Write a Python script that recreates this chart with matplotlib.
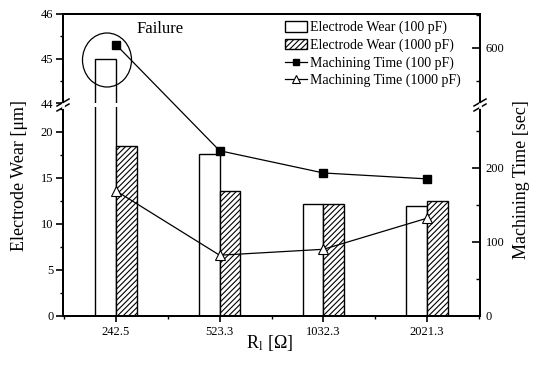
import matplotlib
matplotlib.use('Agg')
import matplotlib.pyplot as plt
from matplotlib.lines import Line2D
from matplotlib.patches import Patch, Ellipse, ConnectionPatch
from matplotlib.ticker import MultipleLocator, FixedLocator

plt.rcParams['font.family'] = ['Liberation Serif', 'DejaVu Serif']
plt.rcParams['mathtext.fontset'] = 'stix'
plt.rcParams['hatch.linewidth'] = 0.8

categories = ['242.5', '523.3', '1032.3', '2021.3']
wear_100pf = [45.0, 17.6, 12.2, 11.9]
wear_1000pf = [18.5, 13.6, 12.2, 12.5]
time_100pf = [605, 223, 193, 185]
time_1000pf = [169, 82, 90, 132]

W, H = 547, 368
fig = plt.figure(figsize=(W / 100, H / 100), dpi=100)

x0, x1 = 63 / W, 480 / W
ax_lo = fig.add_axes([x0, 1 - 316 / H, x1 - x0, (316 - 107) / H])
ax_hi = fig.add_axes([x0, 1 - 103 / H, x1 - x0, (103 - 14) / H])
ax_lo_r = ax_lo.twinx()
ax_hi_r = ax_hi.twinx()

pos = list(range(len(categories)))
bw = 0.2
for ax in (ax_lo, ax_hi):
    ax.bar(pos, wear_100pf, width=-bw, align='edge', facecolor='white',
           edgecolor='black', linewidth=1.0, zorder=2)
    ax.bar(pos, wear_1000pf, width=bw, align='edge', facecolor='white',
           edgecolor='black', hatch='//////', linewidth=1.0, zorder=2)
    ax.set_xlim(-0.51, 3.51)

ax_lo.set_ylim(0, 22.7)
ax_hi.set_ylim(44, 46)
ax_lo_r.set_ylim(0, 282)
ax_hi_r.set_ylim(517, 651)

# machining time lines
hi_idx = [i for i, v in enumerate(time_100pf) if v > 400]
lo_idx = [i for i, v in enumerate(time_100pf) if v <= 400]
ax_lo_r.plot(lo_idx, [time_100pf[i] for i in lo_idx], '-', color='black',
             lw=0.9, marker='s', ms=5.5, mfc='black', mec='black', zorder=5)
ax_hi_r.plot(hi_idx, [time_100pf[i] for i in hi_idx], 's', color='black',
             ms=5.5, zorder=5)
for i in hi_idx:
    j = i + 1
    con = ConnectionPatch(xyA=(i, time_100pf[i]), coordsA=ax_hi_r.transData,
                          xyB=(j, time_100pf[j]), coordsB=ax_lo_r.transData,
                          color='black', lw=0.9)
    fig.add_artist(con)
ax_lo_r.plot(pos, time_1000pf, '-', color='black', lw=0.9, marker='^', ms=7,
             mfc='white', mec='black', mew=0.8, zorder=5)

# spines / ticks
for ax in (ax_lo, ax_lo_r):
    ax.spines['top'].set_visible(False)
for ax in (ax_hi, ax_hi_r):
    ax.spines['bottom'].set_visible(False)
    ax.tick_params(axis='x', which='both', bottom=False, labelbottom=False)
for ax in (ax_lo, ax_hi, ax_lo_r, ax_hi_r):
    for s in ax.spines.values():
        s.set_linewidth(1.4)

ax_lo.set_xticks(pos)
ax_lo.set_xticklabels(categories)
ax_lo.xaxis.set_minor_locator(FixedLocator([-0.5, 0.5, 1.5, 2.5, 3.5]))
ax_lo.tick_params(axis='x', which='major', direction='out', length=4, width=1.2,
                  labelsize=9, pad=3)
ax_lo.tick_params(axis='x', which='minor', direction='out', length=2.5, width=1.0)

ax_lo.set_yticks([0, 5, 10, 15, 20])
ax_lo.yaxis.set_minor_locator(MultipleLocator(2.5))
ax_hi.set_yticks([44, 45, 46])
ax_hi.yaxis.set_minor_locator(MultipleLocator(0.5))
for ax in (ax_lo, ax_hi):
    ax.tick_params(axis='y', which='major', direction='out', length=5, width=1.2,
                   labelsize=9, pad=2)
    ax.tick_params(axis='y', which='minor', direction='out', length=2.5, width=1.0)

ax_lo_r.set_yticks([0, 100, 200])
ax_lo_r.yaxis.set_minor_locator(MultipleLocator(50))
ax_hi_r.set_yticks([600])
ax_hi_r.yaxis.set_minor_locator(MultipleLocator(50))
for ax in (ax_lo_r, ax_hi_r):
    ax.tick_params(axis='y', which='major', direction='in', length=6, width=1.2,
                   labelsize=9, pad=4)
    ax.tick_params(axis='y', which='minor', direction='in', length=3, width=1.0)

# axis break marks
for xs in (x0, x1):
    for dy in (-2.5, 2.5):
        yc = 1 - (105 + dy) / H
        fig.add_artist(Line2D([xs - 6 / W, xs + 6 / W], [yc - 3.5 / H, yc + 3.5 / H],
                              color='black', lw=1.1))
    fig.add_artist(Line2D([xs, xs], [1 - 103.5 / H, 1 - 106.5 / H], color='white', lw=2))

# labels
fig.text(20 / W, 1 - 175 / H, 'Electrode Wear [\u03bcm]', rotation=90,
         ha='center', va='center', fontsize=13)
fig.text(522 / W, 1 - 180 / H, 'Machining Time [sec]', rotation=90,
         ha='center', va='center', fontsize=13)
fig.text(270 / W, 1 - 343 / H, 'R$_\\mathregular{l}$ [\u03a9]', ha='center',
         va='center', fontsize=13)

# failure annotation
fig.text(137 / W, 1 - 29 / H, 'Failure', ha='left', va='center', fontsize=12)
fig.add_artist(Ellipse((107 / W, 1 - 60 / H), 49 / W, 54 / H, fill=False,
                       edgecolor='black', lw=0.9))

handles = [
    Patch(facecolor='white', edgecolor='black', lw=1.0),
    Patch(facecolor='white', edgecolor='black', hatch='//////', lw=1.0),
    Line2D([], [], color='black', lw=0.9, marker='s', ms=4.5),
    Line2D([], [], color='black', lw=0.9, marker='^', ms=5.5, mfc='white', mew=0.8),
]
labels = ['Electrode Wear (100 pF)', 'Electrode Wear (1000 pF)',
          'Machining Time (100 pF)', 'Machining Time (1000 pF)']
fig.legend(handles, labels, loc='upper left', bbox_to_anchor=(285 / W, 1 - 21 / H),
           frameon=False, fontsize=10, handlelength=1.6, handleheight=0.8,
           handletextpad=0.2, labelspacing=0.3, borderpad=0, borderaxespad=0)

fig.savefig('out.png', dpi=100)
